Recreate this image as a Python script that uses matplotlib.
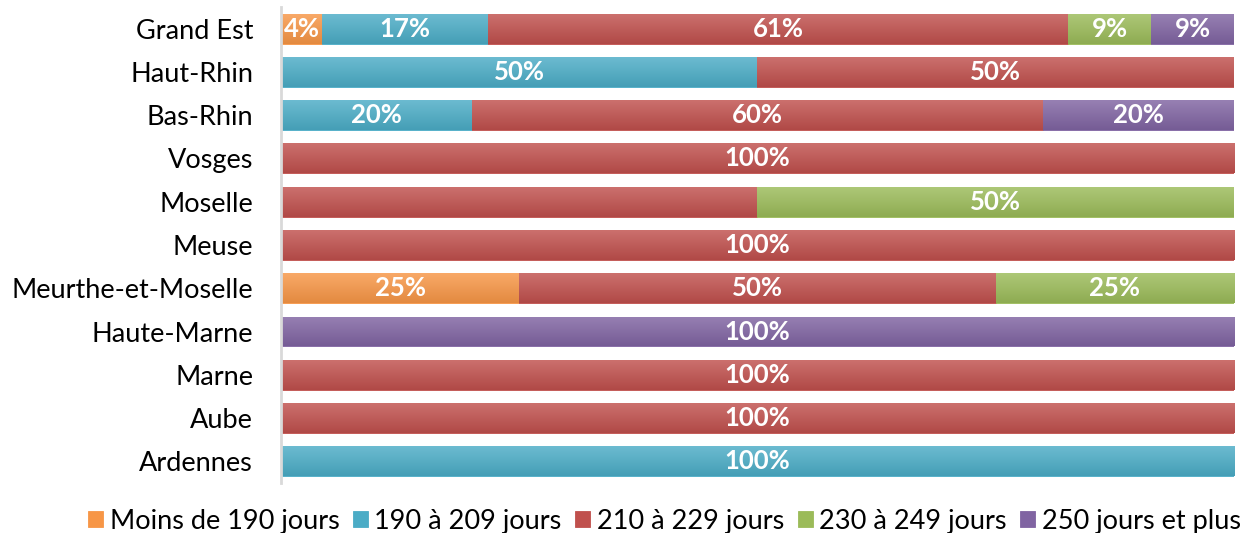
import matplotlib as mpl
mpl.use('Agg')
import matplotlib.pyplot as plt
import numpy as np
from matplotlib.colors import to_rgb

# departments, top to bottom as shown
departements = ['Grand Est', 'Haut-Rhin', 'Bas-Rhin', 'Vosges', 'Moselle', 'Meuse',
                'Meurthe-et-Moselle', 'Haute-Marne', 'Marne', 'Aube', 'Ardennes']
series = ['Moins de 190 jours', '190 à 209 jours', '210 à 229 jours',
          '230 à 249 jours', '250 jours et plus']

# share (%) of each class per department
moins_190 = [4.35, 0, 0, 0, 0, 0, 25, 0, 0, 0, 0]
de_190_209 = [17.39, 50, 20, 0, 0, 0, 0, 0, 0, 0, 100]
de_210_229 = [60.87, 50, 60, 100, 50, 100, 50, 0, 100, 100, 0]
de_230_249 = [8.70, 0, 0, 0, 50, 0, 25, 0, 0, 0, 0]
plus_250 = [8.70, 0, 20, 0, 0, 0, 0, 100, 0, 0, 0]

# labels missing in the original chart (department, series)
hidden_labels = [('Moselle', '210 à 229 jours')]

colors = ['#F79646', '#4BACC6', '#C0504D', '#9BBB59', '#8064A2']

plt.rcParams['font.family'] = ['Lato', 'DejaVu Sans']

fig = plt.figure(figsize=(12.42, 5.33), dpi=100)
ax = fig.add_axes([0.2262, 0.0938, 0.7674, 0.8932])

y = np.arange(len(departements))
left = np.zeros(len(departements))
handles = []
for name, vals, col in zip(series, [moins_190, de_190_209, de_210_229, de_230_249, plus_250], colors):
    vals = np.array(vals, dtype=float)
    bars = ax.barh(y, vals, left=left, height=0.69, color=col, label=name,
                   edgecolor=col, linewidth=0.6)
    handles.append(bars)
    base = np.array(to_rgb(col))
    light = base + (1 - base) * 0.18
    dark = base * 0.92
    grad = np.linspace(0, 1, 32)[:, None, None]
    img = light[None, None, :] * (1 - grad) + dark[None, None, :] * grad
    for dep, p, v in zip(departements, bars.patches, vals):
        if v <= 0:
            continue
        x0, y0, w, h = p.get_x(), p.get_y(), p.get_width(), p.get_height()
        im = ax.imshow(img, extent=(x0, x0 + w, y0 + h, y0), aspect='auto',
                       interpolation='bilinear', zorder=p.get_zorder() + 0.1)
        im.set_clip_path(p)
        if (dep, name) in hidden_labels:
            continue
        ax.text(x0 + w / 2, y0 + h / 2, f'{v:.0f}%', ha='center', va='center',
                color='white', fontsize=18.5, fontweight='bold', zorder=5)
    left += vals

ax.set_xlim(0, 100)
ax.set_ylim(len(departements) - 0.5, -0.5)
ax.set_yticks(y)
ax.set_yticklabels(departements, fontsize=19.5)
ax.tick_params(axis='y', length=0, pad=20)
ax.set_xticks([])
for s in ['top', 'right', 'bottom']:
    ax.spines[s].set_visible(False)
ax.spines['left'].set_color('#D9D9D9')
ax.spines['left'].set_linewidth(2)

fig.legend(handles=handles, labels=series, loc='lower center', ncol=5,
           bbox_to_anchor=(0.535, -0.047), frameon=False, fontsize=19.5,
           handlelength=0.55, handleheight=0.55, handletextpad=0.25, columnspacing=0.5)

fig.savefig('out.png', dpi=100)
